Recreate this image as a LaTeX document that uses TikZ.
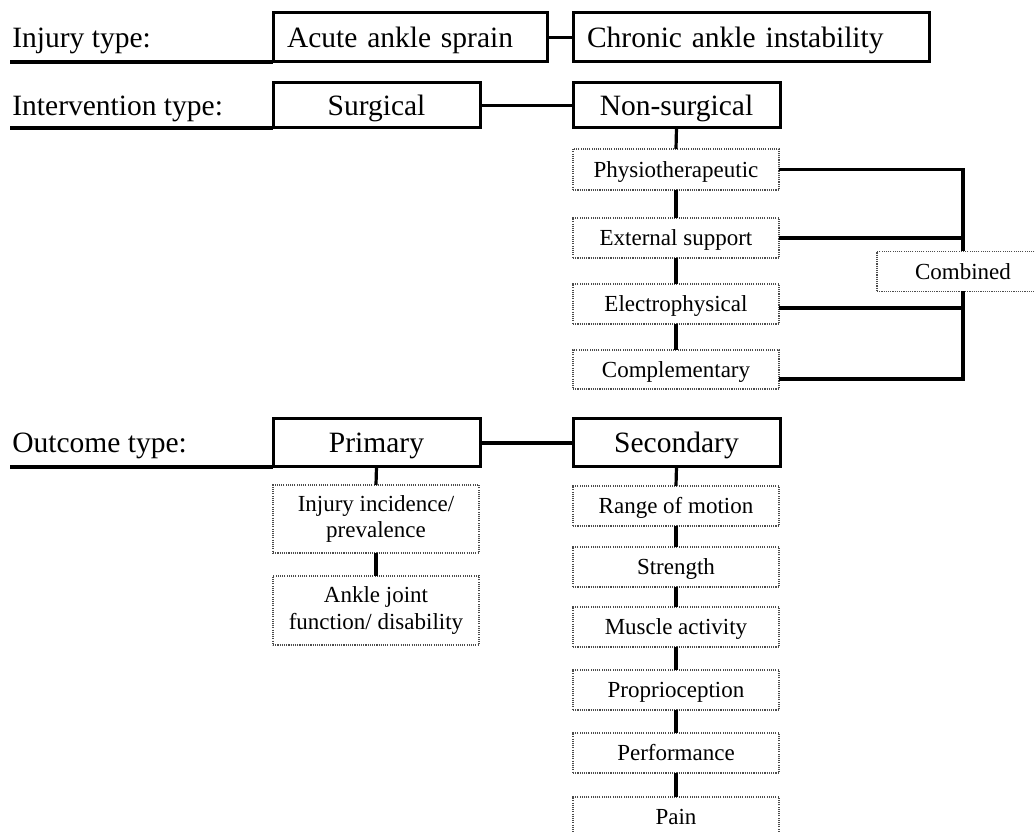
\documentclass[tikz,border=0pt]{standalone}
\usepackage{fontspec}
\setmainfont{Liberation Serif}
\newcommand\fBig{\fontsize{14.75}{17}\selectfont}
\newcommand\fSmall{\fontsize{11.5}{13.2}\selectfont}
\begin{document}
\begin{tikzpicture}[x=0.5pt,y=-0.5pt,
  link/.style={line width=1.6pt},
  bigtext/.style={font=\fBig, text height=12pt, text depth=2.2pt},
  mainbox/.style={draw, line width=1.5pt, inner sep=0pt, outer sep=0pt,
    bigtext, minimum width=103.5pt},
  subbox/.style={draw=black!70, line width=0.55pt,
    dash pattern=on 0.55pt off 0.55pt, inner sep=0pt, outer sep=0pt,
    font=\fSmall, minimum width=103pt, minimum height=20pt},
  oneline/.style={text height=9.8pt, text depth=2.2pt},
  rowlabel/.style={anchor=west, inner sep=0pt, bigtext},
]
\useasboundingbox (0,0) rectangle (1035,833);

% row labels and their underlines
\node[rowlabel] (lInjury) at (12,37.5) {Injury type:};
\node[rowlabel] (lInterv) at (12,105.5) {Intervention type:};
\node[rowlabel] (lOutcome) at (12,443) {Outcome type:};
\coordinate (uInjury) at (10,62);
\coordinate (uInterv) at (10,128);
\coordinate (uOutcome) at (10,467);

% injury type
\node[mainbox, minimum width=137pt, minimum height=24.5pt,
      text width=123pt, align=left] (acute) at (410,37.5) {Acute ankle sprain};
\node[mainbox, minimum width=178pt, minimum height=24.5pt,
      text width=164pt, align=left] (chronic) at (751,37.5) {Chronic ankle instability};

% intervention type
\node[mainbox, minimum height=22.5pt] (surg) at (376.5,105.5) {Surgical};
\node[mainbox, minimum height=22.5pt] (nonsurg) at (676.5,105.5) {Non-surgical};
\node[subbox, oneline, minimum height=20.5pt] (physio) at (676,169.5) {Physiotherapeutic};
\node[subbox, oneline] (ext) at (676,238) {External support};
\node[subbox, oneline] (elec) at (676,304) {Electrophysical};
\node[subbox, oneline, minimum height=19.5pt] (compl) at (676,369.5) {Complementary};
\node[subbox, oneline, minimum width=86pt] (comb) at (963,271.5) {Combined};

% outcome type
\node[mainbox, minimum height=24pt] (prim) at (376.5,443) {Primary};
\node[mainbox, minimum height=24pt] (sec) at (676.5,443) {Secondary};
\node[subbox, align=center, minimum height=34pt] (inj) at (376,519)
  {Injury incidence/\\prevalence};
\node[subbox, align=center, minimum height=34.5pt] (ankle) at (376,610.5)
  {Ankle joint\\function/ disability};
\node[subbox, oneline] (range) at (676,506) {Range of motion};
\node[subbox, oneline] (strength) at (676,567) {Strength};
\node[subbox, oneline] (muscle) at (676,627) {Muscle activity};
\node[subbox, oneline] (proprio) at (676,690) {Proprioception};
\node[subbox, oneline] (perf) at (676,753) {Performance};
\node[subbox, oneline] (pain) at (676,817) {Pain};

% connectors
\draw[link] (uInjury) -- (acute.south west);
\draw[link] (uInterv) -- (surg.south west);
\draw[link] (uOutcome) -- (prim.south west);
\draw[link] (acute.east) -- (chronic.west);
\draw[link] (surg.east) -- (nonsurg.west);
\draw[link] (prim.east) -- (sec.west);

\draw[link] (nonsurg.south) -- (physio.north);
\draw[link] (physio.south) -- (ext.north);
\draw[link] (ext.south) -- (elec.north);
\draw[link] (elec.south) -- (compl.north);

\draw[link] (physio.east) -| (comb.north);
\draw[link] (ext.east) -- (ext.east -| comb.north);
\draw[link] ([yshift=-2pt]elec.east) -- ([yshift=-2pt]elec.east -| comb.south);
\draw[link] ([yshift=-4.75pt]compl.east) -| (comb.south);

\draw[link] (prim.south) -- (inj.north);
\draw[link] (inj.south) -- (ankle.north);

\draw[link] (sec.south) -- (range.north);
\draw[link] (range.south) -- (strength.north);
\draw[link] (strength.south) -- (muscle.north);
\draw[link] (muscle.south) -- (proprio.north);
\draw[link] (proprio.south) -- (perf.north);
\draw[link] (perf.south) -- (pain.north);
\end{tikzpicture}
\end{document}
